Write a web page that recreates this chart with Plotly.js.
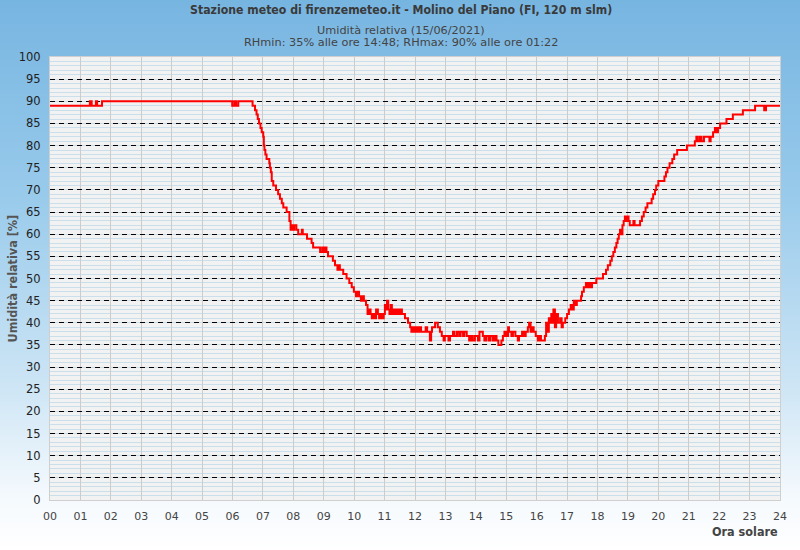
<!DOCTYPE html>
<html>
<head>
<meta charset="utf-8">
<script src="https://cdn.plot.ly/plotly-3.0.1.min.js"></script>
<style>
  html, body { margin: 0; padding: 0; }
  #chart {
    width: 800px; height: 550px;
    background: linear-gradient(to bottom, #77b5e1 0%, #98caeb 35%, #cde5f5 70%, #f4f9fd 90%, #ffffff 100%);
  }
</style>
</head>
<body>
<div id="chart"></div>
<script>
// Time of day (solar hours) and relative humidity [%], step series
const hours = [
  0.00, 1.31, 1.37, 1.51, 1.55, 1.71,
  5.99, 6.06, 6.12, 6.19, 6.66, 6.74, 6.79, 6.83, 6.87, 6.92, 6.96,
  7.01, 7.03, 7.05, 7.08, 7.12, 7.21, 7.23, 7.26, 7.29, 7.34, 7.43, 7.50, 7.56, 7.62, 7.67, 7.78, 7.87, 7.91, 7.95, 7.99,
  8.03, 8.10, 8.16, 8.28, 8.31, 8.45, 8.60, 8.65, 8.88, 8.95,
  9.00, 9.05, 9.09, 9.14, 9.22, 9.30, 9.37, 9.45, 9.50, 9.53, 9.64, 9.75, 9.84, 9.92, 9.99,
  10.06, 10.10, 10.16, 10.22, 10.27, 10.32, 10.39, 10.44, 10.50, 10.54, 10.58, 10.63, 10.68, 10.72, 10.78, 10.82, 10.87, 10.92, 10.97,
  11.01, 11.05, 11.08, 11.12, 11.16, 11.20, 11.24, 11.30, 11.35, 11.41, 11.46, 11.52, 11.57, 11.67, 11.77, 11.84, 11.88, 11.93, 11.98,
  12.03, 12.08, 12.14, 12.20, 12.26, 12.35, 12.40, 12.49, 12.53, 12.56, 12.66, 12.75, 12.82, 12.88, 12.94, 12.98,
  13.10, 13.15, 13.25, 13.30, 13.38, 13.45, 13.50, 13.58, 13.62, 13.70, 13.78, 13.84, 13.90, 13.97,
  14.07, 14.12, 14.23, 14.28, 14.34, 14.42, 14.48, 14.56, 14.62, 14.68, 14.74, 14.84, 14.89, 14.94,
  15.00, 15.06, 15.09, 15.17, 15.22, 15.30, 15.38, 15.42, 15.52, 15.58, 15.64, 15.71, 15.75, 15.80, 15.86, 15.90, 15.97,
  16.04, 16.10, 16.14, 16.27, 16.31, 16.35, 16.40, 16.44, 16.48, 16.52, 16.55, 16.60, 16.64, 16.70, 16.77, 16.82, 16.86, 16.94,
  17.00, 17.06, 17.12, 17.18, 17.22, 17.26, 17.32, 17.46, 17.49, 17.55, 17.62, 17.66, 17.72, 17.78, 17.82, 17.96,
  18.08, 18.18, 18.28, 18.34, 18.42, 18.47, 18.52, 18.57, 18.62, 18.66, 18.70, 18.74, 18.79, 18.82, 18.86, 18.90, 18.95, 18.98,
  19.02, 19.06, 19.18, 19.22, 19.40, 19.46, 19.52, 19.58, 19.64, 19.68, 19.78, 19.83, 19.89, 19.93,
  20.00, 20.20, 20.25, 20.30, 20.37, 20.46, 20.52, 20.62, 20.94,
  21.20, 21.25, 21.30, 21.37, 21.42, 21.50, 21.68, 21.72, 21.80, 21.86, 21.90, 21.96,
  22.03, 22.24, 22.45, 22.78, 23.18, 23.48, 23.54, 24.00
];
const humidity = [
  89, 90, 89, 90, 89, 90,
  89, 90, 89, 90, 89, 88, 87, 86, 85, 84, 83,
  82, 80, 79, 78, 77, 76, 75, 74, 72, 71, 70, 69, 68, 67, 66, 65, 63, 61, 62, 61,
  62, 61, 60, 61, 60, 59, 58, 57, 56, 57,
  56, 57, 56, 55, 55, 54, 53, 52, 53, 52, 51, 50, 49, 48, 47,
  46, 47, 46, 45, 46, 45, 44, 42, 43, 42, 41, 42, 41, 43, 42, 41, 42, 41, 42,
  44, 43, 45, 43, 42, 44, 42, 43, 42, 43, 42, 43, 42, 41, 40, 39, 38, 39, 38,
  39, 38, 39, 38, 38, 39, 38, 36, 38, 39, 40, 39, 38, 37, 36, 37,
  36, 37, 38, 37, 38, 37, 38, 37, 38, 37, 36, 37, 36, 37,
  36, 38, 37, 36, 37, 36, 37, 36, 37, 36, 35, 36, 37, 38,
  37, 39, 38, 37, 38, 37, 36, 37, 38, 37, 38, 39, 40, 38, 39, 38, 37,
  36, 37, 36, 37, 40, 38, 41, 40, 42, 40, 43, 39, 42, 40, 41, 39, 40, 41,
  42, 43, 44, 43, 45, 44, 45, 46, 47, 48, 49, 48, 49, 48, 49, 50,
  50, 51, 52, 53, 54, 55, 56, 57, 58, 59, 60, 61, 60, 62, 63, 64, 63, 64,
  63, 62, 63, 62, 63, 64, 65, 66, 67, 67, 68, 69, 70, 71,
  72, 73, 74, 75, 76, 77, 78, 79, 80,
  81, 82, 81, 82, 81, 82, 81, 82, 83, 84, 83, 84,
  85, 86, 87, 88, 89, 88, 89, 89
];
const hourTicks = [0,1,2,3,4,5,6,7,8,9,10,11,12,13,14,15,16,17,18,19,20,21,22,23,24];
const hourLabels = ['00','01','02','03','04','05','06','07','08','09','10','11','12','13','14','15','16','17','18','19','20','21','22','23','24'];
const yTicks = [0,5,10,15,20,25,30,35,40,45,50,55,60,65,70,75,80,85,90,95,100];

const titleText = 'Stazione meteo di firenzemeteo.it - Molino del Piano (FI, 120 m slm)';
const sub1 = 'Umidità relativa (15/06/2021)';
const sub2 = 'RHmin: 35% alle ore 14:48; RHmax: 90% alle ore 01:22';

const narrow = '"Liberation Sans Narrow", "DejaVu Sans Condensed", "Arial Narrow", sans-serif';
const dv = '"DejaVu Sans", sans-serif';

const trace = {
  x: hours, y: humidity, type: 'scatter', mode: 'lines',
  line: { color: '#ff0000', width: 2, shape: 'hv' },
  hoverinfo: 'skip'
};

const layout = {
  width: 800, height: 550,
  margin: { l: 50, r: 20, t: 57, b: 50 },
  paper_bgcolor: 'rgba(0,0,0,0)',
  plot_bgcolor: '#f2f2f2',
  showlegend: false,
  xaxis: {
    range: [0, 24], tickmode: 'array', tickvals: hourTicks, ticktext: hourLabels,
    showgrid: true, gridcolor: '#cccccc', gridwidth: 1,
    zeroline: false, showline: true, mirror: true, linecolor: '#cfcfcf', linewidth: 1,
    ticks: 'outside', ticklen: 6, tickcolor: 'rgba(0,0,0,0)',
    tickfont: { family: dv, size: 11, color: '#444' }
  },
  yaxis: {
    range: [0, 100], tickmode: 'array', tickvals: yTicks,
    showgrid: true, gridcolor: '#000000', gridwidth: 1, griddash: '5px,4px',
    minor: { dtick: 1, showgrid: true, gridcolor: '#c9e0ec', gridwidth: 1, griddash: 'solid' },
    zeroline: false, showline: true, mirror: true, linecolor: '#cfcfcf', linewidth: 1,
    ticks: 'outside', ticklen: 6, tickcolor: 'rgba(0,0,0,0)',
    tickfont: { family: dv, size: 11.5, color: '#222' }
  },
  annotations: [
    { text: '<b>' + titleText + '</b>', xref: 'paper', yref: 'paper', x: 0.481, y: 1, yshift: 47,
      xanchor: 'center', yanchor: 'middle', showarrow: false,
      font: { family: narrow, size: 12.2, color: '#3a3a3a' } },
    { text: sub1, xref: 'paper', yref: 'paper', x: 0.481, y: 1, yshift: 27,
      xanchor: 'center', yanchor: 'middle', showarrow: false,
      font: { family: dv, size: 11.3, color: '#444' } },
    { text: sub2, xref: 'paper', yref: 'paper', x: 0.481, y: 1, yshift: 15,
      xanchor: 'center', yanchor: 'middle', showarrow: false,
      font: { family: dv, size: 11.3, color: '#444' } },
    { text: '<b>Umidità relativa [%]</b>', xref: 'paper', yref: 'paper', x: 0, xshift: -38, y: 0.5,
      xanchor: 'center', yanchor: 'middle', textangle: -90, showarrow: false,
      font: { family: narrow, size: 12.5, color: '#555' } },
    { text: '<b>Ora solare</b>', xref: 'paper', yref: 'paper', x: 1, xshift: 0, y: 0, yshift: -31,
      xanchor: 'right', yanchor: 'middle', showarrow: false,
      font: { family: narrow, size: 12.5, color: '#444' } }
  ]
};

Plotly.newPlot('chart', [trace], layout, { staticPlot: true, displayModeBar: false });
</script>
</body>
</html>
